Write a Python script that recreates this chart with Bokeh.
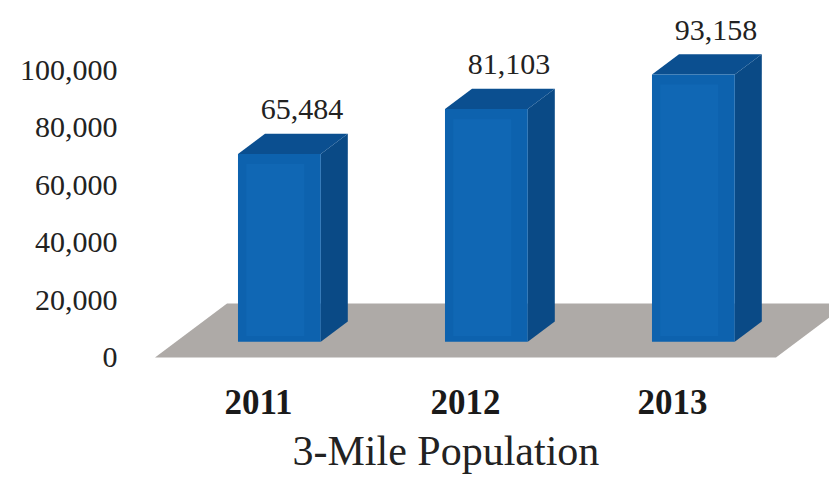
from bokeh.plotting import figure
from bokeh.models import Range1d, LinearAxis, FixedTicker, NumeralTickFormatter, Title
from bokeh.core.properties import value
from bokeh.embed import file_html
from bokeh.resources import INLINE

# ---- data ----
years = ["2011", "2012", "2013"]
population = [65484, 81103, 93158]
value_labels = ["65,484", "81,103", "93,158"]
y_ticks = [0, 20000, 40000, 60000, 80000, 100000]
title_text = "3-Mile Population"

# ---- style / geometry constants ----
SERIF = "Liberation Serif"
FRONT = "#0d62ae"
FRONT_IN = "#1067b4"
SIDE = "#0a4a86"
TOP = "#0b4f90"
FLOOR = "#aeaaa7"
DX = 0.348        # x shift (category units) for full floor depth
DV = 18800.0      # value shift for full floor depth
D_FRONT = 0.29    # depth of bar front face
D_BACK = 0.665    # depth of bar back face
HALF_W = 0.2      # half width of a bar

p = figure(width=829, height=483, output_backend="svg", toolbar_location=None,
           x_range=Range1d(-0.6425, 2.7585), y_range=Range1d(-6272, 124390),
           x_axis_type=None, y_axis_type=None,
           min_border_left=125, min_border_right=0, min_border_top=0,
           min_border_bottom=108)
p.outline_line_color = None
p.grid.visible = False
p.background_fill_color = "white"
p.border_fill_color = "white"


def proj(x, v, d):
    return x + d * DX, v + d * DV


def poly(pts, color):
    p.patch([q[0] for q in pts], [q[1] for q in pts], fill_color=color, line_color=None)


# floor
n = len(years)
fx0, fx1 = -0.5, n - 0.5
poly([proj(fx0, 0, 0), proj(fx1, 0, 0), proj(fx1, 0, 1), proj(fx0, 0, 1)], FLOOR)

# bars
for i, val in enumerate(population):
    xl, xr = i - HALF_W, i + HALF_W
    poly([proj(xr, 0, D_FRONT), proj(xr, 0, D_BACK), proj(xr, val, D_BACK), proj(xr, val, D_FRONT)], SIDE)
    poly([proj(xl, val, D_FRONT), proj(xr, val, D_FRONT), proj(xr, val, D_BACK), proj(xl, val, D_BACK)], TOP)
    poly([proj(xl, 0, D_FRONT), proj(xr, 0, D_FRONT), proj(xr, val, D_FRONT), proj(xl, val, D_FRONT)], FRONT)
    poly([proj(xl + 0.04, 2000, D_FRONT), proj(xr - 0.08, 2000, D_FRONT),
          proj(xr - 0.08, val - 3500, D_FRONT), proj(xl + 0.04, val - 3500, D_FRONT)], FRONT_IN)

# value labels
lx = [i + 0.21 for i in range(n)]
ly = [proj(0, val, D_BACK)[1] + 8400 for val in population]
p.text(x=lx, y=ly, text=value_labels, text_font=value(SERIF),
       text_font_size="30px", text_color="#222222", text_align="center",
       text_baseline="middle")

# y axis
yax = LinearAxis(ticker=FixedTicker(ticks=y_ticks),
                 formatter=NumeralTickFormatter(format="0,0"))
yax.axis_line_color = None
yax.major_tick_line_color = None
yax.minor_tick_line_color = None
yax.major_tick_out = 0
yax.major_tick_in = 0
yax.major_label_standoff = 8
yax.major_label_text_font = SERIF
yax.major_label_text_font_size = "30px"
yax.major_label_text_color = "#222222"
p.add_layout(yax, "left")

# x axis (categories)
xax = LinearAxis(ticker=FixedTicker(ticks=list(range(n))),
                 major_label_overrides={i: y for i, y in enumerate(years)})
xax.axis_line_color = None
xax.major_tick_line_color = None
xax.minor_tick_line_color = None
xax.major_tick_out = 0
xax.major_tick_in = 0
xax.major_label_standoff = 14
xax.major_label_text_font = SERIF
xax.major_label_text_font_style = "bold"
xax.major_label_text_font_size = "35px"
xax.major_label_text_color = "#1a1a1a"
p.add_layout(xax, "below")

# chart title below
t = Title(text=title_text, align="left", offset=167, standoff=18,
          text_font=SERIF, text_font_style="normal", text_font_size="42px",
          text_color="#222222")
p.add_layout(t, "below")

open("out.html", "w").write(file_html(p, INLINE))
